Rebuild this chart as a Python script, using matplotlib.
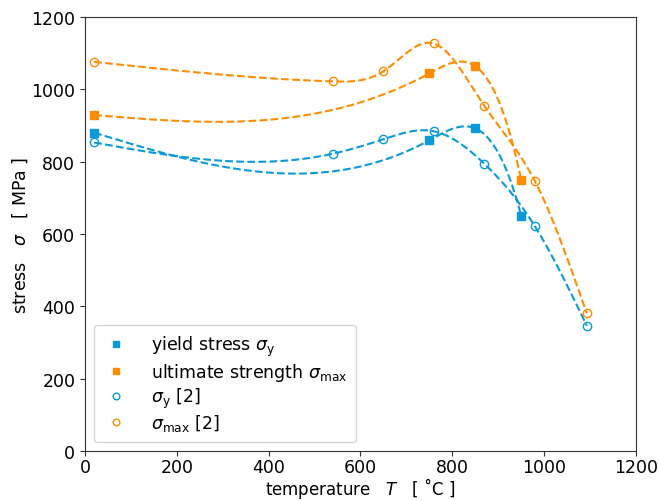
import numpy as np
import matplotlib
matplotlib.use("Agg")
import matplotlib.pyplot as plt

# own tests
temp_own = [20, 750, 850, 950]
yield_own = [880, 859, 892, 651]
ultimate_own = [929, 1044, 1064, 750]

# reference [2]
temp_ref = [20, 540, 650, 760, 870, 980, 1093]
yield_ref = [853, 822, 862, 884, 794, 621, 346]
ultimate_ref = [1076, 1022, 1050, 1127, 954, 746, 380]

blue = "#0a9ad9"
orange = "#ff8c00"


def spline(x, y, xs, right="natural"):
    # cubic spline, natural at the left end
    x = np.asarray(x, float)
    y = np.asarray(y, float)
    n = len(x)
    h = np.diff(x)
    A = np.zeros((n, n))
    b = np.zeros(n)
    A[0, 0] = 1
    if right == "natural":
        A[-1, -1] = 1
    else:
        A[-1, -3], A[-1, -2], A[-1, -1] = h[-1], -(h[-2] + h[-1]), h[-2]
    for i in range(1, n - 1):
        A[i, i - 1] = h[i - 1]
        A[i, i] = 2 * (h[i - 1] + h[i])
        A[i, i + 1] = h[i]
        b[i] = 6 * ((y[i + 1] - y[i]) / h[i] - (y[i] - y[i - 1]) / h[i - 1])
    M = np.linalg.solve(A, b)
    idx = np.clip(np.searchsorted(x, xs) - 1, 0, n - 2)
    x0, x1 = x[idx], x[idx + 1]
    hh = x1 - x0
    return (M[idx] * (x1 - xs) ** 3 / (6 * hh) + M[idx + 1] * (xs - x0) ** 3 / (6 * hh)
            + (y[idx] / hh - M[idx] * hh / 6) * (x1 - xs)
            + (y[idx + 1] / hh - M[idx + 1] * hh / 6) * (xs - x0))


plt.rcParams["font.size"] = 12.5
plt.rcParams["mathtext.fontset"] = "dejavusans"

fig = plt.figure(figsize=(6.59, 5.02), dpi=100)
ax = fig.add_axes([0.129, 0.1, 0.836, 0.864])

xs_own = np.linspace(temp_own[0], temp_own[-1], 400)
xs_ref = np.linspace(temp_ref[0], temp_ref[-1], 400)

ax.plot(temp_own, yield_own, "s", color=blue, ms=6, label=r"yield stress $\sigma_\mathrm{y}$")
ax.plot(temp_own, ultimate_own, "s", color=orange, ms=6, label=r"ultimate strength $\sigma_\mathrm{max}$")
ax.plot(temp_ref, yield_ref, "o", color=blue, mfc="none", ms=6, label=r"$\sigma_\mathrm{y}$ [2]")
ax.plot(temp_ref, ultimate_ref, "o", color=orange, mfc="none", ms=6, label=r"$\sigma_\mathrm{max}$ [2]")

ax.plot(xs_own, spline(temp_own, yield_own, xs_own, "nak"), "--", color=blue, lw=1.5)
ax.plot(xs_own, spline(temp_own, ultimate_own, xs_own, "nak"), "--", color=orange, lw=1.5)
ax.plot(xs_ref, spline(temp_ref, yield_ref, xs_ref), "--", color=blue, lw=1.5)
ax.plot(xs_ref, spline(temp_ref, ultimate_ref, xs_ref), "--", color=orange, lw=1.5)

ax.set_xlim(0, 1200)
ax.set_ylim(0, 1200)
ax.set_xlabel("temperature   $T$   [ \u02daC ]", labelpad=-1, fontsize=12)
ax.set_ylabel(r"stress   $\sigma$   [ MPa ]", labelpad=1)
for s in ax.spines.values():
    s.set_color("#333333")
ax.tick_params(color="#333333")
ax.tick_params(axis="x", pad=2)

ax.legend(loc="lower left", markerscale=0.8, handlelength=1.6, handletextpad=1.2,
          borderpad=0.5, labelspacing=0.16, fontsize=12.5, borderaxespad=0.5)

fig.savefig("out.png", dpi=100)
